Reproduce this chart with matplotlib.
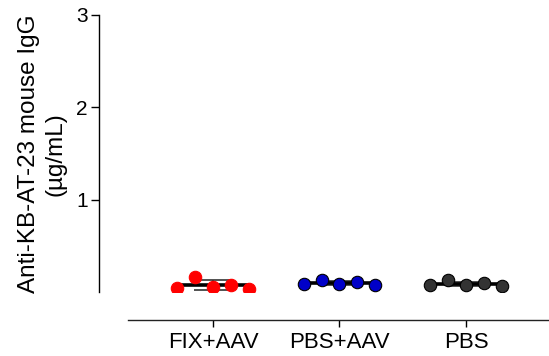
import numpy as np
import matplotlib
matplotlib.use("Agg")
import matplotlib.pyplot as plt

plt.rcParams["font.family"] = ["Liberation Sans", "DejaVu Sans"]

# anti-KB-AT-23 IgG per mouse (µg/mL)
groups = ["FIX+AAV", "PBS+AAV", "PBS"]
fix_aav = [0.05, 0.17, 0.06, 0.08, 0.035]
pbs_aav = [0.09, 0.13, 0.09, 0.11, 0.08]
pbs = [0.08, 0.13, 0.08, 0.10, 0.07]
values = [fix_aav, pbs_aav, pbs]
face_colors = ["#ff0000", "#0000c8", "#333333"]
edge_colors = ["#ff0000", "#000000", "#000000"]
y_ticks = [1, 2, 3]

fig = plt.figure(figsize=(5.49, 3.56), dpi=100)
ax = fig.add_axes([0.1803, 0.1784, 0.8197, 0.7795])

step = 0.142
for gi, vals in enumerate(values):
    vals = np.asarray(vals)
    xs = gi + step * (np.arange(len(vals)) - (len(vals) - 1) / 2)
    mean = vals.mean()
    sd = vals.std(ddof=1)
    # mean line spanning the group, SD caps below the dots
    ax.hlines(mean, xs[0], xs[-1], color="black", lw=2.6, zorder=2)
    ax.hlines([mean - sd, mean + sd], gi - 0.15, gi + 0.15,
              color="#333333", lw=1.2, zorder=1)
    ax.vlines(gi, mean - sd, mean + sd, color="#333333", lw=1.2, zorder=1)
    ax.scatter(xs, vals, s=80, color=face_colors[gi],
               edgecolors=edge_colors[gi], linewidths=0.8, zorder=3)

ax.set_xlim(-0.901, 2.656)
ax.set_ylim(0, 3)

for side in ("top", "right"):
    ax.spines[side].set_visible(False)
ax.spines["left"].set_bounds(0, 3)
ax.spines["left"].set_linewidth(1.0)
ax.spines["bottom"].set_position(("outward", 19.8))
ax.spines["bottom"].set_bounds(-0.672, 2.66)
ax.spines["bottom"].set_linewidth(1.0)
ax.spines["bottom"].set_color("#222222")

ax.set_yticks(y_ticks)
ax.set_yticklabels([str(t) for t in y_ticks])
ax.set_xticks(range(len(groups)))
ax.set_xticklabels(groups)
ax.tick_params(axis="y", length=6, width=1.0, pad=2, labelsize=15)
ax.tick_params(axis="x", length=5, width=1.0, pad=4, labelsize=16)

ax.set_ylabel("Anti-KB-AT-23 mouse IgG\n(µg/mL)", fontsize=17.5, linespacing=1.25)
ax.yaxis.set_label_coords(-0.073, 0.5)

fig.savefig("out.png", dpi=100)
